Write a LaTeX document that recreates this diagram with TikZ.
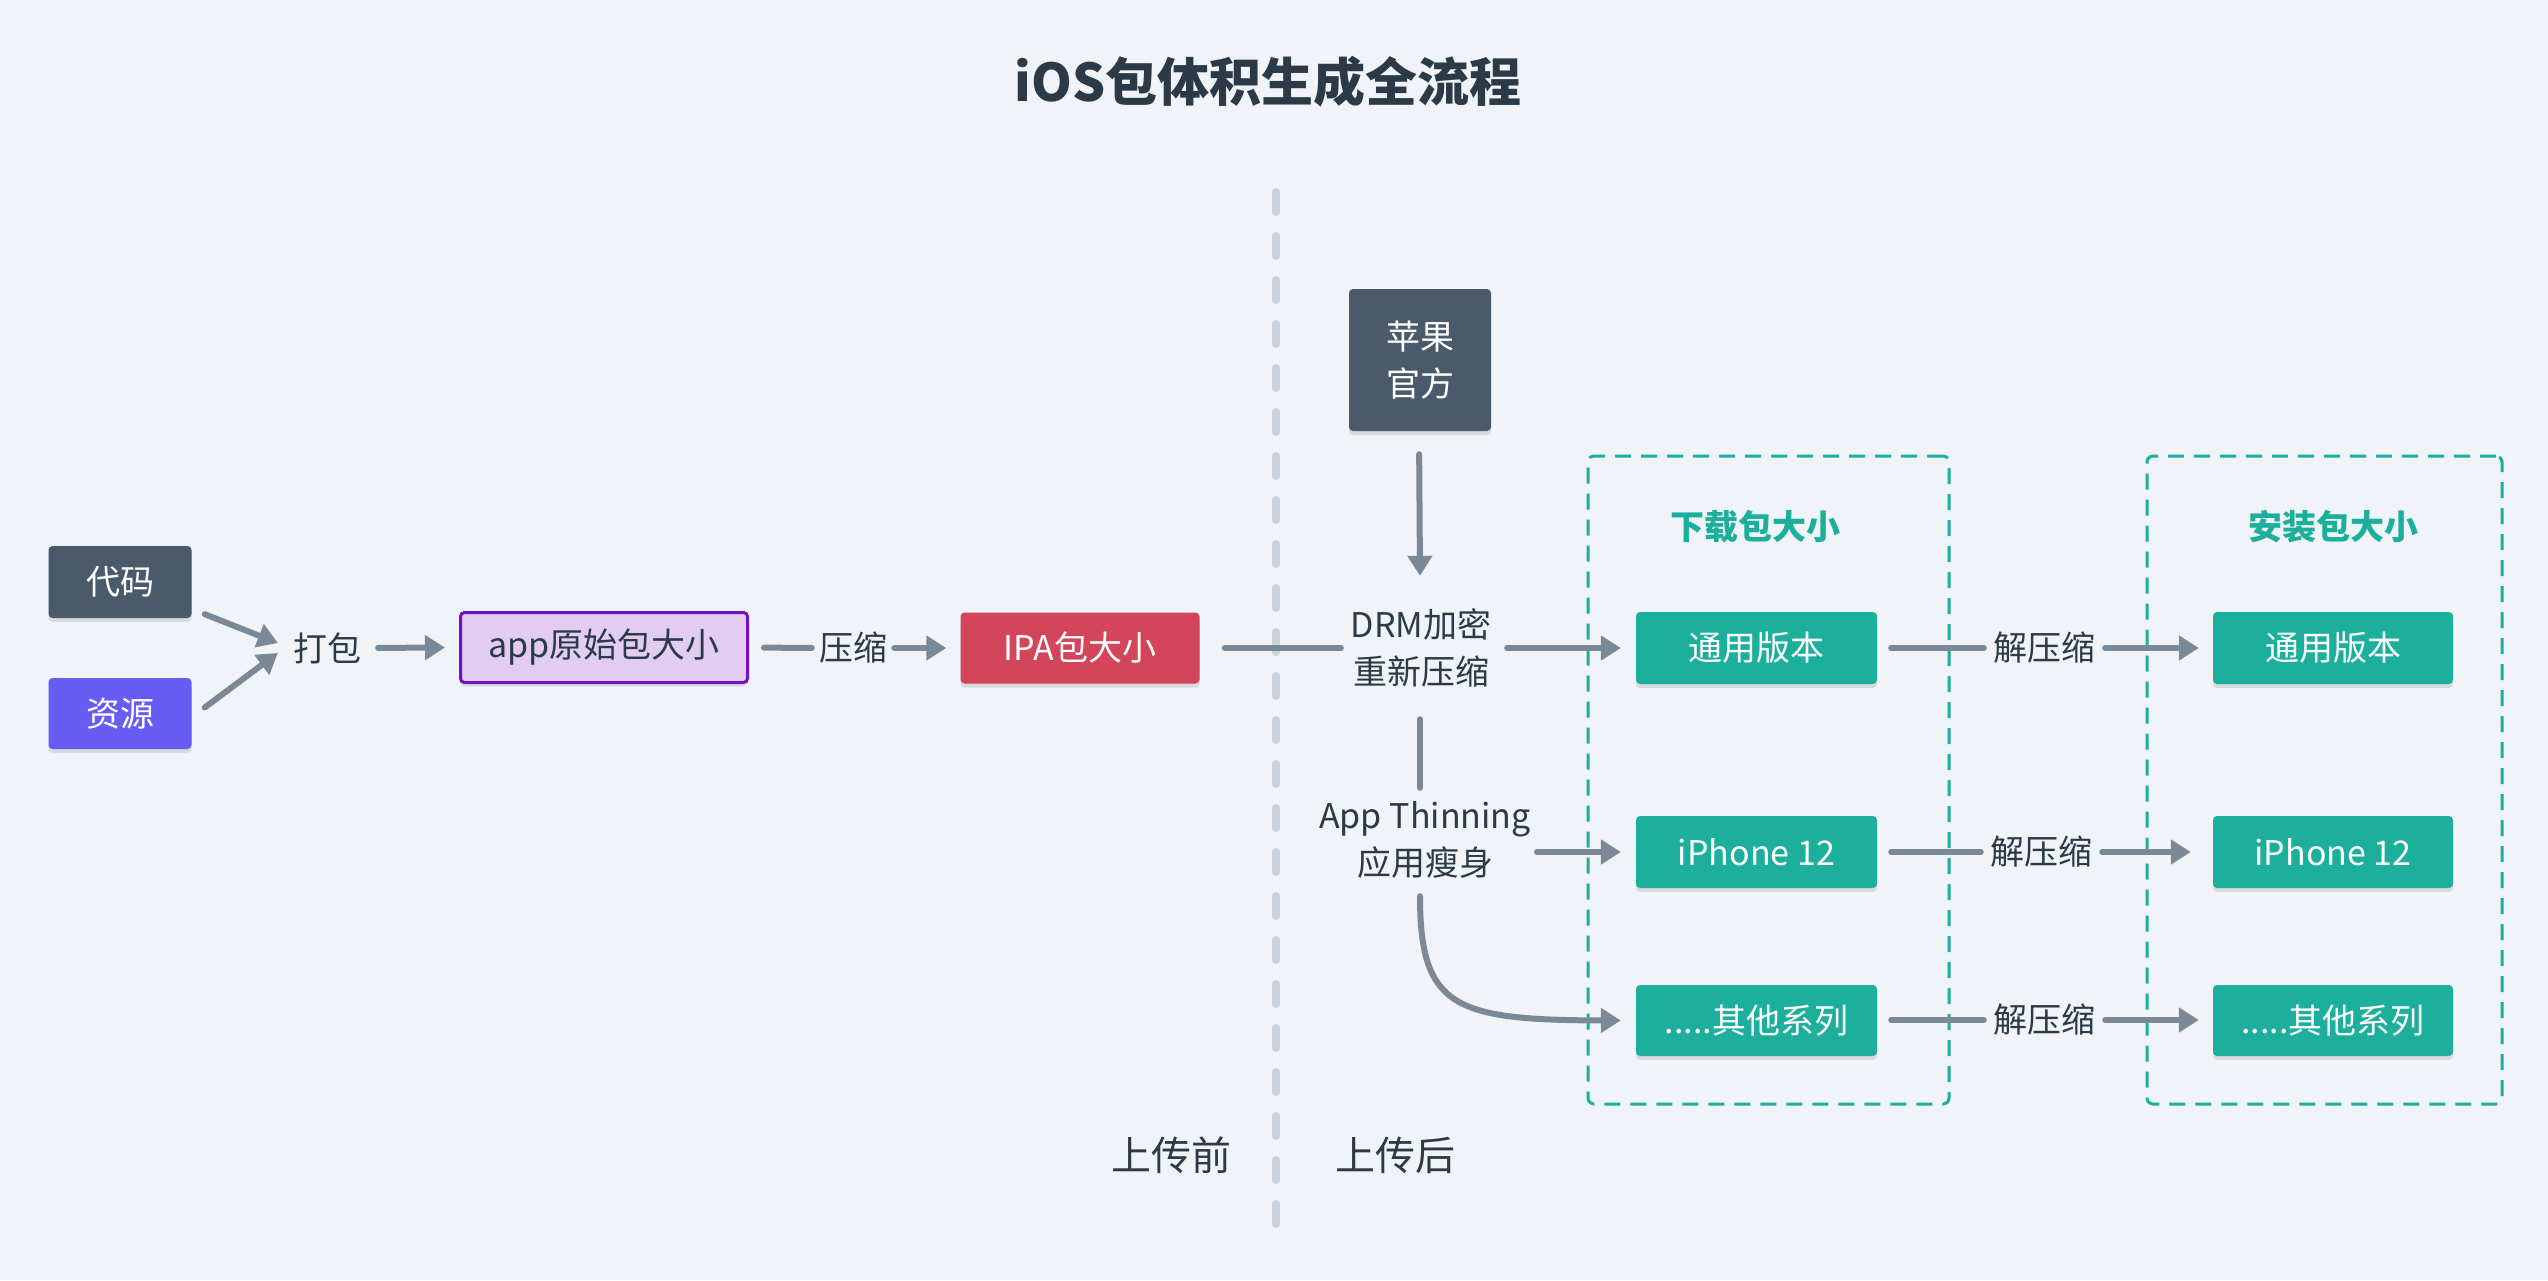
\documentclass[tikz,border=0pt]{standalone}
\usepackage{fontspec}
\setmainfont{Noto Sans CJK SC}
\usetikzlibrary{arrows.meta,shadows,calc}
\definecolor{bg}{HTML}{F0F4F8}
\definecolor{txt}{HTML}{2C3A47}
\definecolor{ac}{HTML}{7B8996}
\definecolor{slate}{HTML}{4A5A6A}
\definecolor{indigo}{HTML}{675DF4}
\definecolor{ipared}{HTML}{D5455A}
\definecolor{tealc}{HTML}{1BAF9C}
\definecolor{lav}{HTML}{E2CCF1}
\definecolor{purp}{HTML}{7011C5}
\definecolor{vline}{HTML}{C7D3DD}
\begin{document}
\begin{tikzpicture}[x=1pt,y=-1pt,
  f34/.style={font=\fontsize{34}{47}\selectfont},
  box/.style={f34, rounded corners=4pt, inner sep=0pt, minimum height=72pt, text=white,
     drop shadow={shadow xshift=0pt, shadow yshift=-4pt, opacity=0.10, fill=black}},
  lbl/.style={f34, inner sep=0pt, text=txt, align=center},
  arr/.style={draw=ac, line width=6pt, line cap=round, -{Triangle[length=20pt,width=24pt]}},
  ln/.style={draw=ac, line width=6pt, line cap=round},
  grp/.style={draw=tealc, line width=3pt, dash pattern=on 16pt off 10pt, rounded corners=6pt, inner sep=0pt},
  gtitle/.style={font=\fontsize{34}{47}\selectfont\bfseries, text=tealc, inner sep=0pt}
]
\useasboundingbox (0,0) rectangle (2548,1280);
\fill[bg] (0,0) rectangle (2548,1280);

% title
\node[font=\fontsize{52}{62}\selectfont\bfseries, text=txt, inner sep=0pt] (title) at (1268,82) {iOS包体积生成全流程};

% divider
\draw[draw=vline, line width=8pt, line cap=round, dash pattern=on 20pt off 24pt] (1276,192) -- (1276,1225);
\node[lbl, font=\fontsize{40}{48}\selectfont] (before) at (1171,1155) {上传前};
\node[lbl, font=\fontsize{40}{48}\selectfont] (after) at (1395,1155) {上传后};

% left part
\node[box, fill=slate, minimum width=143pt] (daima) at (120,582) {代码};
\node[box, fill=indigo, minimum width=143pt, minimum height=71pt] (ziyuan) at (120,713.5) {资源};
\node[lbl, minimum width=72pt, minimum height=40pt] (dabao) at (327,648) {打包};
\node[box, fill=lav, draw=purp, line width=3pt, text=txt, minimum width=287pt, minimum height=70pt] (app) at (604,647.5) {app原始包大小};
\node[lbl, minimum width=72pt, minimum height=40pt] (yasuo) at (853,648) {压缩};
\node[box, fill=ipared, minimum width=239pt, minimum height=71pt] (ipa) at (1080,648) {IPA包大小};

\draw[arr] ([shift={(13,-4)}]daima.south east) -- ([shift={(-13,-5)}]dabao.west);
\draw[arr] ([shift={(13,-6)}]ziyuan.east) -- ([shift={(-13,5)}]dabao.west);
\draw[arr, shorten <=15pt, shorten >=0pt] (dabao.east) -- ([xshift=-14]app.west);
\draw[ln, shorten <=15pt, shorten >=5pt] (app.east) -- (yasuo.west);
\draw[arr, shorten <=5pt] (yasuo.east) -- ([xshift=-14]ipa.west);

% middle part
\node[box, fill=slate, minimum width=142pt, minimum height=142pt, align=center, font=\fontsize{34}{47}\selectfont] (apple) at (1420,360) {苹果\\官方};
\node[lbl, minimum width=150pt, minimum height=100pt] (drm) at (1421,648) {DRM加密\\重新压缩};
\node[lbl, minimum width=210pt, minimum height=100pt] (thin) at (1425,840) {App Thinning\\应用瘦身};

\draw[ln, shorten <=25pt, shorten >=5pt] (ipa.east) -- (drm.west);
\draw[arr, shorten <=23pt] ([xshift=-1]apple.south) -- ([shift={(-1,-22)}]drm.north);
\draw[ln, shorten <=21pt, shorten >=2pt] ([xshift=-1]drm.south) -- ([xshift=-1]drm.south |- thin.north);

% download group
\node[grp, minimum width=361pt, minimum height=648pt] (g1) at (1768.5,780) {};
\node[grp, minimum width=355pt, minimum height=648pt] (g2) at (2324.5,780) {};
\node[gtitle] (g1t) at (1755,527) {下载包大小};
\node[gtitle] (g2t) at (2333,527) {安装包大小};

\node[box, fill=tealc, minimum width=241pt] (d1) at (1756.5,648) {通用版本};
\node[box, fill=tealc, minimum width=241pt] (d2) at (1756.5,852) {iPhone 12};
\node[box, fill=tealc, minimum width=241pt, minimum height=71pt] (d3) at (1756.5,1020.5) {.....其他系列};

\node[box, fill=tealc, minimum width=240pt] (i1) at (2333,648) {通用版本};
\node[box, fill=tealc, minimum width=240pt] (i2) at (2333,852) {iPhone 12};
\node[box, fill=tealc, minimum width=240pt, minimum height=71pt] (i3) at (2333,1020.5) {.....其他系列};

\draw[arr, shorten <=11pt] (drm.east) -- ([xshift=-15]d1.west);
\draw[arr] ([shift={(6,12)}]thin.east) -- ([xshift=-15]d2.west);
\draw[arr] ([shift={(-5,6)}]thin.south) .. controls (1420,1008) and (1455,1020) .. ([xshift=-15]d3.west);

% unzip rows
\node[lbl, minimum width=108pt, minimum height=40pt] (j1) at (2044,648) {解压缩};
\node[lbl, minimum width=108pt, minimum height=40pt] (j2) at (2041,852) {解压缩};
\node[lbl, minimum width=108pt, minimum height=40pt] (j3) at (2044,1020) {解压缩};

\draw[ln, shorten <=14pt, shorten >=6pt] (d1.east) -- (j1.west);
\draw[arr, shorten <=7pt] (j1.east) -- ([xshift=-14]i1.west);
\draw[ln, shorten <=14pt, shorten >=6pt] (d2.east) -- (j2.west);
\draw[arr, shorten <=7pt] (j2.east) -- ([xshift=-22]i2.west);
\draw[ln, shorten <=14pt, shorten >=6pt] (d3.east |- j3) -- (j3.west);
\draw[arr, shorten <=7pt] (j3.east) -- ([xshift=-14]i3.west |- j3);
\end{tikzpicture}
\end{document}
